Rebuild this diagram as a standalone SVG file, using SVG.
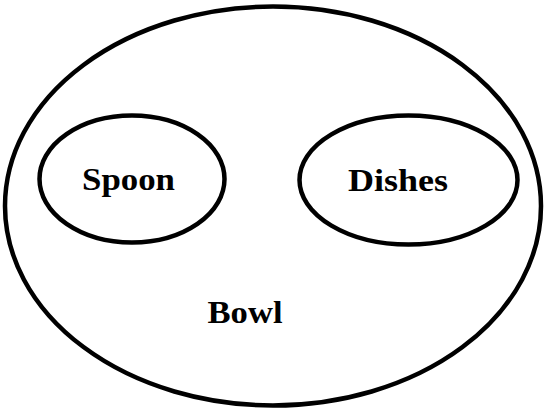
<svg xmlns="http://www.w3.org/2000/svg" width="544" height="410" viewBox="0 0 544 410">
<style>
.set{fill:none;stroke:#000;stroke-width:4.5}
.lbl{font-family:"Liberation Serif","DejaVu Serif",serif;font-weight:bold;font-size:32px;fill:#000}
</style>
<rect width="544" height="410" fill="#fff"/>
<g id="bowl">
<ellipse class="set" cx="273" cy="206" rx="268" ry="199.5"/>
<text class="lbl" x="245" y="323" text-anchor="middle" textLength="75" lengthAdjust="spacingAndGlyphs">Bowl</text>
</g>
<g id="spoon">
<ellipse class="set" cx="132" cy="179" rx="92.5" ry="63.5"/>
<text class="lbl" x="128.5" y="190" text-anchor="middle" textLength="93" lengthAdjust="spacingAndGlyphs">Spoon</text>
</g>
<g id="dishes">
<ellipse class="set" cx="408.5" cy="180" rx="109" ry="64.5"/>
<text class="lbl" x="398" y="191" text-anchor="middle" textLength="100" lengthAdjust="spacingAndGlyphs">Dishes</text>
</g>
<g id="connectors"/>
</svg>
